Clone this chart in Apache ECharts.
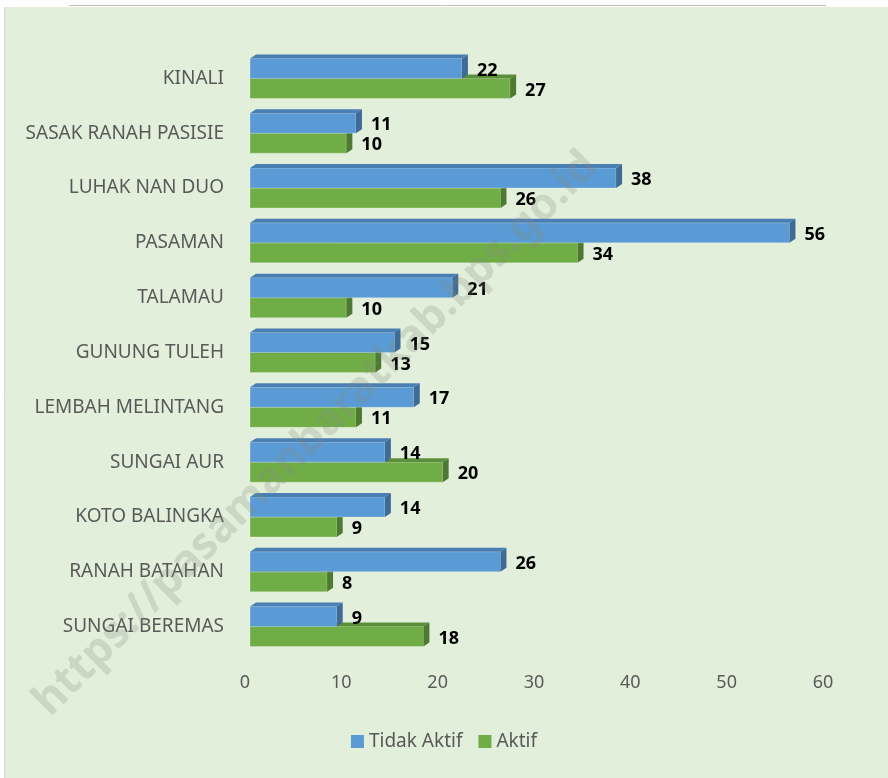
<!DOCTYPE html>
<html lang="id">
  <head>
    <meta charset="UTF-8" />
    <title>Chart</title>
    <script src="https://cdn.jsdelivr.net/npm/echarts@6/dist/echarts.min.js"></script>
    <style>
      html, body { margin: 0; padding: 0; background: #fff; }
      #main { width: 888px; height: 778px; }
    </style>
  </head>
  <body>
    <div id="main"></div>
  </body>
  <script>
    // kecamatan, dari atas ke bawah
    const kecamatan = [
      "KINALI",
      "SASAK RANAH PASISIE",
      "LUHAK NAN DUO",
      "PASAMAN",
      "TALAMAU",
      "GUNUNG TULEH",
      "LEMBAH MELINTANG",
      "SUNGAI AUR",
      "KOTO BALINGKA",
      "RANAH BATAHAN",
      "SUNGAI BEREMAS",
    ];
    const tidakAktif = [22, 11, 38, 56, 21, 15, 17, 14, 14, 26, 9];
    const aktif = [27, 10, 26, 34, 10, 13, 11, 20, 9, 8, 18];
    const xTicks = [0, 10, 20, 30, 40, 50, 60];

    const FONT = '"Noto Sans", "Open Sans", sans-serif';

    // warna muka depan, atas, samping
    const warnaBiru = ["#5B9BD5", "#4A7FB3", "#3E6B98"];
    const warnaHijau = ["#70AD47", "#5C8F3A", "#4D7A30"];

    // bar 3D: muka depan + atas + samping
    function bar3d(warna, atas) {
      return function (params, api) {
        const v = api.value(0);
        const c = api.value(1);
        const p0 = api.coord([0, c]);
        const p1 = api.coord([v, c]);
        const h = 20;
        const dx = 6;
        const dy = 4;
        const x0 = p0[0];
        const x1 = p1[0];
        const y0 = atas ? p0[1] - h : p0[1];
        return {
          type: "group",
          children: [
            {
              type: "rect",
              shape: { x: x0, y: y0, width: x1 - x0, height: h },
              style: { fill: warna[0], stroke: "rgba(255,255,255,0.25)", lineWidth: 1 },
            },
            {
              type: "polygon",
              shape: {
                points: [
                  [x0, y0],
                  [x1, y0],
                  [x1 + dx, y0 - dy],
                  [x0 + dx, y0 - dy],
                ],
              },
              style: { fill: warna[1] },
            },
            {
              type: "polygon",
              shape: {
                points: [
                  [x1, y0],
                  [x1 + dx, y0 - dy],
                  [x1 + dx, y0 + h - dy],
                  [x1, y0 + h],
                ],
              },
              style: { fill: warna[2] },
            },
            {
              type: "text",
              style: {
                x: x1 + dx + 9,
                y: y0 + h / 2 + 2,
                text: String(v),
                font: "bold 18px " + FONT,
                fill: "#000",
                verticalAlign: "middle",
                align: "left",
              },
            },
          ],
        };
      };
    }

    var chartDom = document.getElementById("main");
    var myChart = echarts.init(chartDom);
    var option = {
      backgroundColor: "#fff",
      animation: false,
      graphic: [
        {
          type: "rect",
          z: -10,
          shape: { x: 5, y: 7, width: 883, height: 771 },
          style: { fill: "#E2EFDA" },
        },
        {
          type: "line",
          z: -9,
          shape: { x1: 4.5, y1: 7, x2: 4.5, y2: 778 },
          style: { stroke: "#D6D6D6", lineWidth: 1 },
        },
        {
          type: "line",
          z: -9,
          shape: { x1: 69, y1: 5.5, x2: 826, y2: 5.5 },
          style: { stroke: "#BFBFBF", lineWidth: 1 },
        },
        {
          type: "text",
          z: 100,
          x: 316,
          y: 434,
          rotation: Math.PI / 4,
          style: {
            text: "https://pasamanbaratkab.bps.go.id",
            font: "bold 44px " + FONT,
            fill: "rgba(130,140,125,0.24)",
            align: "center",
            verticalAlign: "middle",
          },
        },
      ],
      legend: {
        data: ["Tidak Aktif", "Aktif"],
        bottom: 22,
        left: "center",
        itemWidth: 13,
        itemHeight: 13,
        itemGap: 16,
        icon: "rect",
        textStyle: { color: "#595959", fontSize: 19, fontFamily: FONT },
      },
      grid: { left: 250, top: 51, width: 578, height: 603 },
      xAxis: {
        type: "value",
        min: 0,
        max: 60,
        interval: 10,
        axisLine: { show: false },
        axisTick: { show: false },
        splitLine: { show: false },
        axisLabel: {
          color: "#595959",
          fontSize: 18,
          fontFamily: FONT,
          margin: 20,
          padding: [0, 10, 0, 0],
          formatter: function (v) {
            return xTicks.indexOf(v) >= 0 ? String(v) : "";
          },
        },
      },
      yAxis: {
        type: "category",
        inverse: true,
        data: kecamatan,
        axisLine: { show: false },
        axisTick: { show: false },
        axisLabel: {
          color: "#595959",
          fontSize: 19,
          fontFamily: FONT,
          margin: 26,
          padding: [10, 0, 0, 0],
        },
      },
      series: [
        {
          type: "custom",
          name: "Aktif",
          itemStyle: { color: "#70AD47" },
          renderItem: bar3d(warnaHijau, false),
          encode: { x: 0, y: 1 },
          data: aktif.map(function (v, i) {
            return [v, i];
          }),
        },
        {
          type: "custom",
          name: "Tidak Aktif",
          itemStyle: { color: "#5B9BD5" },
          renderItem: bar3d(warnaBiru, true),
          encode: { x: 0, y: 1 },
          data: tidakAktif.map(function (v, i) {
            return [v, i];
          }),
        },
      ],
    };
    option && myChart.setOption(option);
  </script>
</html>
